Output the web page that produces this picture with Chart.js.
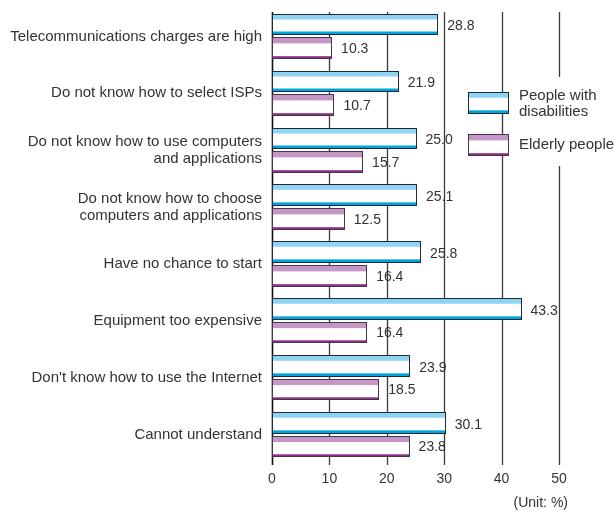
<!DOCTYPE html>
<html>
<head>
<meta charset="utf-8">
<script src="https://cdn.jsdelivr.net/npm/chart.js@4/dist/chart.umd.min.js"></script>
<style>
  html, body { margin: 0; padding: 0; background: #fff; }
  #wrap { width: 615px; height: 513px; }
</style>
</head>
<body>
<div id="wrap"><canvas id="reasons"></canvas></div>
<script>
const categories = [
  'Telecommunications charges are high',
  'Do not know how to select ISPs',
  ['Do not know how to use computers', 'and applications'],
  ['Do not know how to choose', 'computers and applications'],
  'Have no chance to start',
  'Equipment too expensive',
  "Don't know how to use the Internet",
  'Cannot understand',
];
const disabledValues = [28.8, 21.9, 25.0, 25.1, 25.8, 43.3, 23.9, 30.1];
const elderlyValues = [10.3, 10.7, 15.7, 12.5, 16.4, 16.4, 18.5, 23.8];
const xTicks = [0, 10, 20, 30, 40, 50];

const FONT = 'Liberation Sans, Arial, sans-serif';
const TEXT = '#333';

// stripe colours for each series: top band, bottom band, outline
const bands = [
  { top: '#8fd4f4', bottom: '#00a4de', line: '#1d2a33', topFrac: 0.25, bottomFrac: 0.15 },
  { top: '#c597c7', bottom: '#8b2f89', line: '#4a3449', topFrac: 0.28, bottomFrac: 0.11 },
];

function paintStripes(ctx, x0, x1, y0, y1, b) {
  const h = y1 - y0;
  ctx.fillStyle = '#fff';
  ctx.fillRect(x0, y0, x1 - x0, h);
  ctx.fillStyle = b.top;
  ctx.fillRect(x0, y0, x1 - x0, h * b.topFrac);
  ctx.fillStyle = b.bottom;
  ctx.fillRect(x0, y1 - h * b.bottomFrac, x1 - x0, h * b.bottomFrac);
  ctx.strokeStyle = b.line;
  ctx.lineWidth = 1;
  ctx.strokeRect(x0, y0, x1 - x0, h);
}

const gridPlugin = {
  id: 'gridLines',
  beforeDatasetsDraw(chart) {
    const { ctx, scales: { x } } = chart;
    ctx.save();
    xTicks.forEach((v) => {
      const px = Math.round(x.getPixelForValue(v)) + 0.5;
      ctx.strokeStyle = v === 0 ? '#111' : '#3a3a3a';
      ctx.lineWidth = v === 0 ? 1.6 : 1.3;
      ctx.beginPath();
      ctx.moveTo(px, 12);
      ctx.lineTo(px, chart.chartArea.bottom + 2);
      ctx.stroke();
    });
    ctx.restore();
  },
};

const barPlugin = {
  id: 'stripedBars',
  afterDatasetsDraw(chart) {
    const { ctx } = chart;
    ctx.save();
    chart.data.datasets.forEach((ds, i) => {
      const meta = chart.getDatasetMeta(i);
      meta.data.forEach((bar, j) => {
        const y0 = Math.round(bar.y - bar.height / 2) + 0.5;
        const y1 = Math.round(bar.y + bar.height / 2) - 0.5;
        paintStripes(ctx, Math.round(bar.base) + 0.5, Math.round(bar.x) + 0.5, y0, y1, bands[i]);
        // value label next to the bar end
        ctx.fillStyle = TEXT;
        ctx.font = '14px ' + FONT;
        ctx.textAlign = 'left';
        ctx.textBaseline = 'middle';
        ctx.fillText(ds.data[j].toFixed(1), bar.x + 10, bar.y + (i === 0 ? 2 : 1));
      });
    });
    ctx.restore();
  },
  afterDraw(chart) {
    const { ctx, chartArea } = chart;
    ctx.save();
    // legend sits on a white patch over the grid
    ctx.fillStyle = '#fff';
    ctx.fillRect(510, 77, 105, 89);
    paintStripes(ctx, 468.5, 508.5, 92.5, 113.5, bands[0]);
    paintStripes(ctx, 468.5, 508.5, 134.5, 155.5, bands[1]);
    ctx.fillStyle = TEXT;
    ctx.font = '15px ' + FONT;
    ctx.textAlign = 'left';
    ctx.textBaseline = 'middle';
    ctx.fillText('People with', 519, 96);
    ctx.fillText('disabilities', 519, 112);
    ctx.fillText('Elderly people', 519, 145);
    // unit note under the axis
    ctx.font = '14px ' + FONT;
    ctx.textAlign = 'right';
    ctx.fillText('(Unit: %)', chartArea.right + 9, 503);
    ctx.restore();
  },
};

new Chart(document.getElementById('reasons'), {
  type: 'bar',
  data: {
    labels: categories,
    datasets: [
      { label: 'People with disabilities', data: disabledValues, backgroundColor: 'rgba(0,0,0,0)', borderWidth: 0 },
      { label: 'Elderly people', data: elderlyValues, backgroundColor: 'rgba(0,0,0,0)', borderWidth: 0 },
    ],
  },
  options: {
    indexAxis: 'y',
    responsive: true,
    maintainAspectRatio: false,
    animation: false,
    barPercentage: 0.915,
    categoryPercentage: 0.83,
    layout: { padding: { top: 8, right: 56, left: 0, bottom: 0 } },
    plugins: { legend: { display: false }, tooltip: { enabled: false } },
    scales: {
      x: {
        min: 0,
        max: 50,
        afterBuildTicks(scale) { scale.ticks = xTicks.map((v) => ({ value: v })); },
        afterFit(scale) {
          scale.height = 50;
          scale.paddingLeft = 0;
          scale.paddingRight = 0;
        },
        grid: { display: false, drawTicks: false },
        border: { display: false },
        ticks: { color: TEXT, font: { family: FONT, size: 14 }, padding: 8 },
      },
      y: {
        afterFit(scale) {
          scale.width = 272;
          scale.paddingTop = 0;
          scale.paddingBottom = 0;
        },
        grid: { display: false, drawTicks: false },
        border: { display: false },
        ticks: { color: TEXT, font: { family: FONT, size: 15, lineHeight: 1.15 }, padding: 10 },
      },
    },
  },
  plugins: [gridPlugin, barPlugin],
});
</script>
</body>
</html>
